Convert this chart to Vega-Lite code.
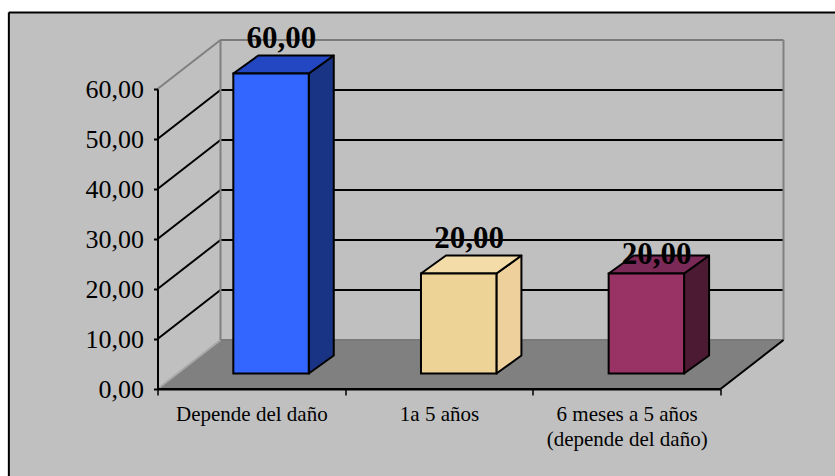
{
  "$schema": "https://vega.github.io/schema/vega-lite/v6.json",
  "width": 563,
  "height": 300,
  "autosize": {"type": "none"},
  "padding": {"left": 157.5, "top": 89, "right": 114.5, "bottom": 87},
  "background": "#C0C0C0",
  "config": {"view": {"stroke": null}, "font": "Liberation Serif"},
  "datasets": {
    "bars": [
      {"category": "Depende del daño", "value": 60},
      {"category": "1a 5 años", "value": 20},
      {"category": "6 meses a 5 años (depende del daño)", "value": 20}
    ],
    "ticks": [{"t": 0}, {"t": 10}, {"t": 20}, {"t": 30}, {"t": 40}, {"t": 50}, {"t": 60}],
    "one": [{"part": "frame"}]
  },
  "layer": [
    {
      "data": {"name": "one"},
      "transform": [
        {"calculate": "[0, 1]", "as": "k"},
        {"flatten": ["k"]},
        {"calculate": "datum.k * 9.8", "as": "fy"},
        {"calculate": "datum.k * 0.3357", "as": "fx"},
        {"calculate": "3 + datum.k * 0.3357", "as": "fx2"}
      ],
      "mark": {"type": "area", "orient": "horizontal", "fill": "#808080", "interpolate": "linear"},
      "encoding": {
        "y": {
          "field": "fy", "type": "quantitative",
          "scale": {"domain": [0, 60], "nice": false, "zero": false},
          "axis": {
            "values": [0, 10, 20, 30, 40, 50, 60],
            "title": null, "grid": false,
            "domainColor": "black", "domainWidth": 2,
            "tickColor": "black", "tickWidth": 2, "tickSize": 4,
            "labelExpr": "replace(format(datum.value, '.2f'), '.', ',')",
            "labelFont": "Liberation Serif", "labelFontSize": 26, "labelColor": "black",
            "labelPadding": 10, "labelOverlap": false,
            "zindex": 1
          }
        },
        "x": {
          "field": "fx", "type": "quantitative",
          "scale": {"domain": [0, 3], "nice": false, "zero": false},
          "axis": {
            "values": [0, 0.5, 1, 1.5, 2, 2.5, 3],
            "title": null, "grid": false,
            "domainColor": "black", "domainWidth": 2,
            "tickColor": "black", "tickWidth": 1.5, "tickSize": 6,
            "tickOpacity": {"condition": {"test": "datum.value % 1 != 0", "value": 0}, "value": 1},
            "labelExpr": "datum.value == 0.5 ? 'Depende del daño' : datum.value == 1.5 ? '1a 5 años' : datum.value == 2.5 ? ['6 meses a 5 años', '(depende del daño)'] : ''",
            "labelFont": "Liberation Serif", "labelFontSize": 21, "labelColor": "black",
            "labelPadding": 8, "labelLineHeight": 25,
            "labelOverlap": false, "labelFlush": false, "labelBound": false,
            "labelBaseline": "top", "labelAlign": "center",
            "zindex": 1
          }
        },
        "x2": {"field": "fx2"}
      }
    },
    {
      "data": {"name": "ticks"},
      "transform": [
        {"calculate": "datum.t + 9.8", "as": "bt"},
        {"calculate": "0.3357", "as": "wx0"},
        {"calculate": "3.3357", "as": "wx1"}
      ],
      "mark": {"type": "rule", "strokeWidth": 2},
      "encoding": {
        "x": {"field": "wx0", "type": "quantitative", "scale": {"domain": [0, 3], "nice": false, "zero": false}},
        "x2": {"field": "wx1"},
        "y": {"field": "bt", "type": "quantitative", "scale": {"domain": [0, 60], "nice": false, "zero": false}},
        "color": {"condition": {"test": "datum.t == 0 || datum.t == 60", "value": "#7A7A7A"}, "value": "black"}
      }
    },
    {
      "data": {"name": "ticks"},
      "transform": [
        {"calculate": "datum.t + 9.8", "as": "bt"},
        {"calculate": "0", "as": "z0"},
        {"calculate": "0.3357", "as": "wx0"}
      ],
      "mark": {"type": "rule", "strokeWidth": 2},
      "encoding": {
        "x": {"field": "z0", "type": "quantitative", "scale": {"domain": [0, 3], "nice": false, "zero": false}},
        "x2": {"field": "wx0"},
        "y": {"field": "t", "type": "quantitative", "scale": {"domain": [0, 60], "nice": false, "zero": false}},
        "y2": {"field": "bt"},
        "color": {"condition": [{"test": "datum.t == 0", "value": "#A8A8A8"}, {"test": "datum.t == 60", "value": "#808080"}], "value": "black"}
      }
    },
    {
      "data": {"name": "one"},
      "transform": [
        {"calculate": "[0, 1]", "as": "k"},
        {"flatten": ["k"]},
        {"calculate": "0.3357 + 3 * datum.k", "as": "vx"},
        {"calculate": "9.8", "as": "vy"},
        {"calculate": "69.8", "as": "vy2"}
      ],
      "mark": {"type": "rule", "strokeWidth": 2, "color": "#808080"},
      "encoding": {
        "x": {"field": "vx", "type": "quantitative", "scale": {"domain": [0, 3], "nice": false, "zero": false}},
        "y": {"field": "vy", "type": "quantitative", "scale": {"domain": [0, 60], "nice": false, "zero": false}},
        "y2": {"field": "vy2"}
      }
    },
    {
      "data": {"name": "one"},
      "transform": [
        {"calculate": "[0, 1]", "as": "k"},
        {"flatten": ["k"]},
        {"calculate": "datum.k == 0 ? 3 : 0", "as": "ex"},
        {"calculate": "3.3357 * (1 - datum.k) + 3 * datum.k", "as": "ex2"},
        {"calculate": "0", "as": "ey"},
        {"calculate": "9.8 * (1 - datum.k)", "as": "ey2"}
      ],
      "mark": {"type": "rule", "strokeWidth": 2, "color": "black"},
      "encoding": {
        "x": {"field": "ex", "type": "quantitative", "scale": {"domain": [0, 3], "nice": false, "zero": false}},
        "x2": {"field": "ex2"},
        "y": {"field": "ey", "type": "quantitative", "scale": {"domain": [0, 60], "nice": false, "zero": false}},
        "y2": {"field": "ey2"}
      }
    },
    {
      "data": {"name": "bars"},
      "transform": [
        {"window": [{"op": "row_number", "as": "i"}]},
        {"calculate": "datum.i - 1 + 0.404", "as": "xl"},
        {"calculate": "datum.xl + 0.402", "as": "xr"},
        {"calculate": "3.1", "as": "base"},
        {"calculate": "datum.base + datum.value", "as": "top"},
        {"calculate": "[0, 1]", "as": "k"},
        {"flatten": ["k"]},
        {"calculate": "datum.xr + datum.k * 0.1332", "as": "sx"},
        {"calculate": "datum.base + datum.k * 3.6", "as": "sy"},
        {"calculate": "datum.top + datum.k * 3.6", "as": "sy2"}
      ],
      "mark": {"type": "area", "orient": "vertical", "stroke": "black", "strokeWidth": 2, "strokeJoin": "round", "interpolate": "linear"},
      "encoding": {
        "x": {"field": "sx", "type": "quantitative", "scale": {"domain": [0, 3], "nice": false, "zero": false}},
        "y": {"field": "sy", "type": "quantitative", "scale": {"domain": [0, 60], "nice": false, "zero": false}},
        "y2": {"field": "sy2"},
        "detail": {"field": "category"},
        "color": {"condition": [{"test": "datum.i == 1", "value": "#1A3485"}, {"test": "datum.i == 2", "value": "#EDD09B"}], "value": "#4D1A33"}
      }
    },
    {
      "data": {"name": "bars"},
      "transform": [
        {"window": [{"op": "row_number", "as": "i"}]},
        {"calculate": "datum.i - 1 + 0.404", "as": "xl"},
        {"calculate": "datum.xl + 0.402", "as": "xr"},
        {"calculate": "3.1", "as": "base"},
        {"calculate": "datum.base + datum.value", "as": "top"},
        {"calculate": "[0, 1]", "as": "k"},
        {"flatten": ["k"]},
        {"calculate": "datum.xl + datum.k * 0.1332", "as": "tx"},
        {"calculate": "datum.xr + datum.k * 0.1332", "as": "tx2"},
        {"calculate": "datum.top + datum.k * 3.6", "as": "ty"}
      ],
      "mark": {"type": "area", "orient": "horizontal", "stroke": "black", "strokeWidth": 2, "strokeJoin": "round", "interpolate": "linear"},
      "encoding": {
        "y": {"field": "ty", "type": "quantitative", "scale": {"domain": [0, 60], "nice": false, "zero": false}},
        "x": {"field": "tx", "type": "quantitative", "scale": {"domain": [0, 3], "nice": false, "zero": false}},
        "x2": {"field": "tx2"},
        "detail": {"field": "category"},
        "color": {"condition": [{"test": "datum.i == 1", "value": "#2347C2"}, {"test": "datum.i == 2", "value": "#F3DCA8"}], "value": "#7B2956"}
      }
    },
    {
      "data": {"name": "bars"},
      "transform": [
        {"window": [{"op": "row_number", "as": "i"}]},
        {"calculate": "datum.i - 1 + 0.404", "as": "xl"},
        {"calculate": "datum.xl + 0.402", "as": "xr"},
        {"calculate": "3.1", "as": "base"},
        {"calculate": "datum.base + datum.value", "as": "top"}
      ],
      "mark": {"type": "rect", "stroke": "black", "strokeWidth": 2},
      "encoding": {
        "x": {"field": "xl", "type": "quantitative", "scale": {"domain": [0, 3], "nice": false, "zero": false}},
        "x2": {"field": "xr"},
        "y": {"field": "base", "type": "quantitative", "scale": {"domain": [0, 60], "nice": false, "zero": false}},
        "y2": {"field": "top"},
        "color": {"condition": [{"test": "datum.i == 1", "value": "#3366FF"}, {"test": "datum.i == 2", "value": "#EDD396"}], "value": "#993366"}
      }
    },
    {
      "data": {"name": "bars"},
      "transform": [
        {"window": [{"op": "row_number", "as": "i"}]},
        {"calculate": "datum.i - 1 + 0.404", "as": "xl"},
        {"calculate": "3.1 + datum.value", "as": "top"},
        {"calculate": "datum.xl + 0.256", "as": "lx"},
        {"calculate": "datum.top + (datum.i == 3 ? 3.7 : 7.0)", "as": "ly"},
        {"calculate": "replace(format(datum.value, '.2f'), '.', ',')", "as": "lbl"}
      ],
      "mark": {"type": "text", "font": "Liberation Serif", "fontSize": 31, "fontWeight": "bold", "color": "black", "align": "center", "baseline": "middle"},
      "encoding": {
        "x": {"field": "lx", "type": "quantitative", "scale": {"domain": [0, 3], "nice": false, "zero": false}},
        "y": {"field": "ly", "type": "quantitative", "scale": {"domain": [0, 60], "nice": false, "zero": false}},
        "text": {"field": "lbl"}
      }
    },
    {
      "data": {"name": "one"},
      "transform": [
        {"calculate": "[0, 1]", "as": "k"},
        {"flatten": ["k"]},
        {"calculate": "-0.9", "as": "rx"},
        {"calculate": "datum.k == 0 ? -0.797 : 3.9", "as": "rx2"},
        {"calculate": "80", "as": "ry"},
        {"calculate": "datum.k == 0 ? -25 : 75.4", "as": "ry2"}
      ],
      "mark": {"type": "rect", "fill": "white"},
      "encoding": {
        "x": {"field": "rx", "type": "quantitative", "scale": {"domain": [0, 3], "nice": false, "zero": false}},
        "x2": {"field": "rx2"},
        "y": {"field": "ry", "type": "quantitative", "scale": {"domain": [0, 60], "nice": false, "zero": false}},
        "y2": {"field": "ry2"}
      }
    },
    {
      "data": {"name": "one"},
      "transform": [
        {"calculate": "[0, 1]", "as": "k"},
        {"flatten": ["k"]},
        {"calculate": "-0.792", "as": "bx"},
        {"calculate": "datum.k == 0 ? -0.792 : 3.9", "as": "bx2"},
        {"calculate": "75.3", "as": "by"},
        {"calculate": "datum.k == 0 ? -25 : 75.3", "as": "by2"}
      ],
      "mark": {"type": "rule", "strokeWidth": 2, "color": "black"},
      "encoding": {
        "x": {"field": "bx", "type": "quantitative", "scale": {"domain": [0, 3], "nice": false, "zero": false}},
        "x2": {"field": "bx2"},
        "y": {"field": "by", "type": "quantitative", "scale": {"domain": [0, 60], "nice": false, "zero": false}},
        "y2": {"field": "by2"}
      }
    }
  ]
}
